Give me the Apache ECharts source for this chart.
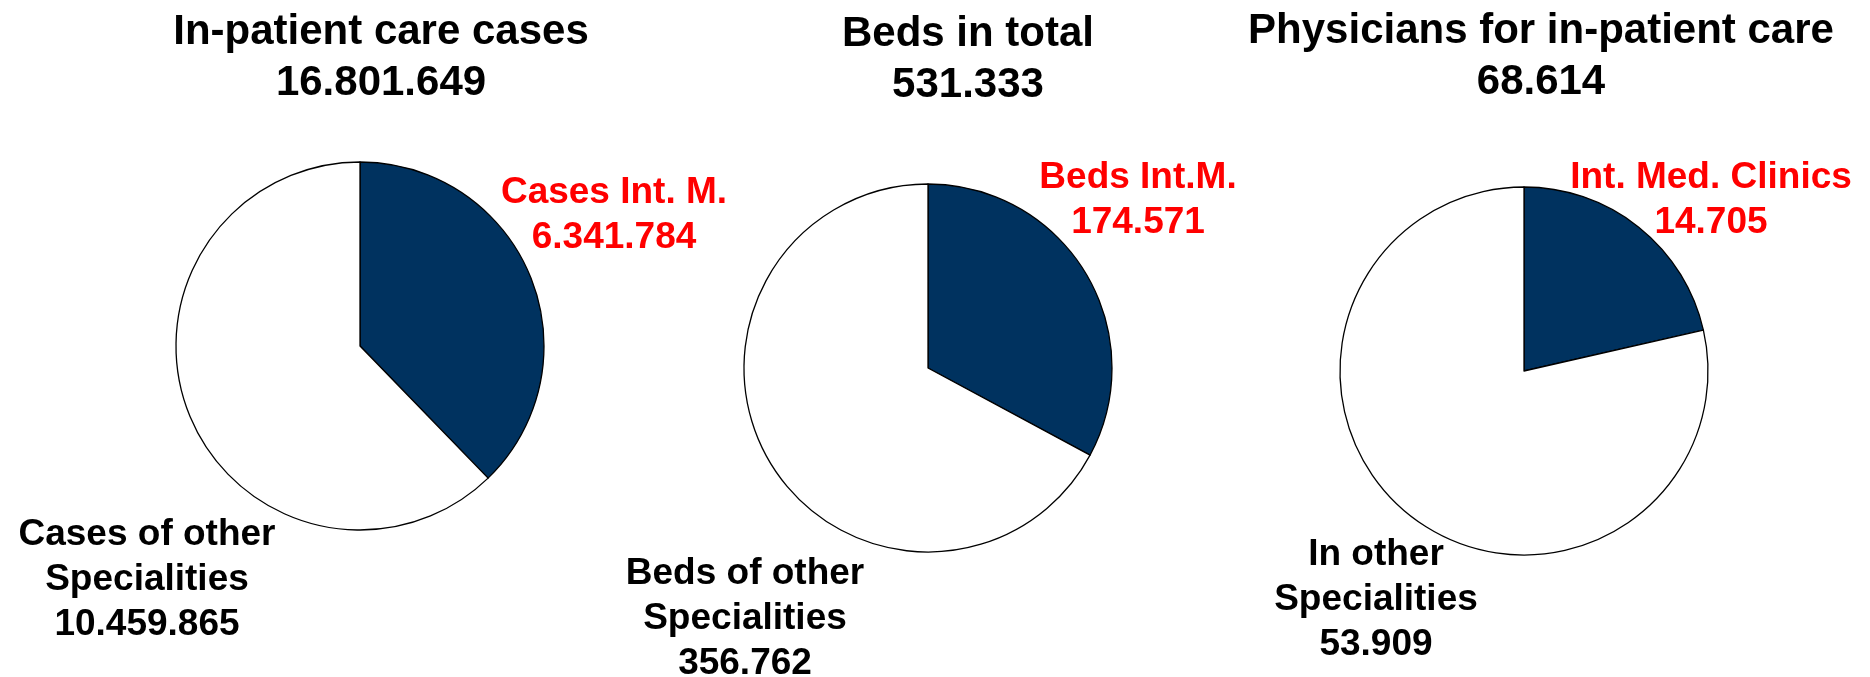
<!DOCTYPE html>
<html>
<head>
<meta charset="utf-8">
<script src="https://cdn.jsdelivr.net/npm/echarts@6/dist/echarts.min.js"></script>
<style>
  html, body { margin: 0; padding: 0; background: #fff; }
  #chart { width: 1870px; height: 677px; }
</style>
</head>
<body>
<div id="chart"></div>
<script>
// values
const pieTitles = ['In-patient care cases', 'Beds in total', 'Physicians for in-patient care'];
const intMedNames = ['Cases Int. M.', 'Beds Int.M.', 'Int. Med. Clinics'];
const otherNames = ['Cases of other\nSpecialities', 'Beds of other\nSpecialities', 'In other\nSpecialities'];
const intMedValues = [6341784, 174571, 14705];
const otherValues = [10459865, 356762, 53909];

// layout
const centers = [[360, 346], [928, 368], [1524, 371]];
const titlePos = [[381, 7], [968, 9], [1541, 6]];
const labelPos = [
  [[614, 215], [147, 580]],
  [[1138, 200], [745, 619]],
  [[1711, 200], [1376, 600]]
];

const FONT = '"Liberation Sans", Arial, Helvetica, sans-serif';

function fmt(v) {
  return String(v).replace(/\B(?=(\d{3})+(?!\d))/g, '.');
}

const chart = echarts.init(document.getElementById('chart'));

const titles = pieTitles.map(function (t, i) {
  return {
    text: t + '\n' + fmt(intMedValues[i] + otherValues[i]),
    left: titlePos[i][0],
    top: titlePos[i][1],
    textAlign: 'center',
    padding: 0,
    textStyle: {
      fontFamily: FONT,
      fontWeight: 'bold',
      fontSize: 42,
      lineHeight: 51,
      color: '#000'
    }
  };
});

const series = pieTitles.map(function (t, i) {
  return {
    type: 'pie',
    center: centers[i],
    radius: 184,
    startAngle: 90,
    clockwise: true,
    avoidLabelOverlap: false,
    silent: true,
    itemStyle: { borderColor: '#000', borderWidth: 1.3 },
    label: {
      show: true,
      position: 'outside',
      fontFamily: FONT,
      fontWeight: 'bold',
      fontSize: 37,
      lineHeight: 45,
      formatter: function (p) { return p.name + '\n' + fmt(p.value); }
    },
    labelLine: { show: false },
    labelLayout: function (p) {
      const pos = labelPos[p.seriesIndex][p.dataIndex];
      return { x: pos[0], y: pos[1], align: 'center', verticalAlign: 'middle' };
    },
    data: [
      { name: intMedNames[i], value: intMedValues[i],
        itemStyle: { color: '#00325f' }, label: { color: '#ff0000' } },
      { name: otherNames[i], value: otherValues[i],
        itemStyle: { color: '#ffffff' }, label: { color: '#000000' } }
    ]
  };
});

chart.setOption({
  animation: false,
  backgroundColor: '#fff',
  title: titles,
  series: series
});
</script>
</body>
</html>
